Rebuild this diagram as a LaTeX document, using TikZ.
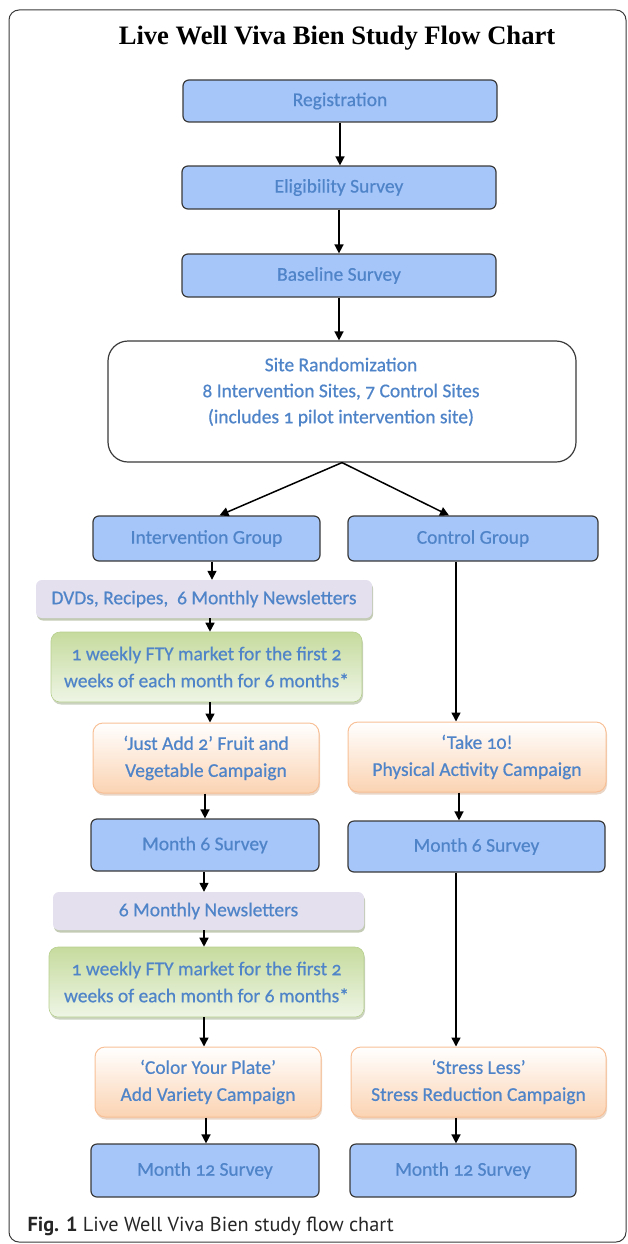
\documentclass[tikz,border=0pt]{standalone}
\usepackage{fontspec}
\setmainfont{Carlito}
\newfontfamily\boxfont[Numbers=OldStyle,FakeBold=0.6]{Carlito}
\newfontfamily\titlefont{Liberation Serif}
\newfontfamily\capfont{PT Sans}
\usetikzlibrary{arrows.meta,shadows,calc}
\definecolor{txt}{HTML}{4F84C9}
\definecolor{bfill}{HTML}{A6C6FA}
\definecolor{bord}{HTML}{3A3A3A}
\definecolor{grnD}{HTML}{C6DB9E}
\definecolor{grnL}{HTML}{EEF5E5}
\definecolor{grnB}{HTML}{B7CF8E}
\definecolor{orB}{HTML}{F8C096}
\definecolor{orD}{HTML}{FBD3B2}
\definecolor{lav}{HTML}{E4E0EE}
\definecolor{shd}{HTML}{A9B596}
\tikzset{
  basebox/.style={align=center, text=txt, font=\boxfont\fontsize{19.5}{27}\selectfont, inner sep=0pt},
  bluebox/.style={basebox, rounded corners=6pt, draw=bord, line width=1.2pt, fill=bfill},
  randbox/.style={rounded corners=20pt, draw=bord, line width=1.2pt, fill=white, inner sep=0pt},
  grnbox/.style={basebox, rounded corners=9pt, draw=grnB, line width=0.6pt, top color=grnD, bottom color=grnL,
     drop shadow={shadow xshift=1pt, shadow yshift=-2.5pt, fill=shd, opacity=0.6}},
  orbox/.style={basebox, rounded corners=10pt, draw=orB, line width=1pt, top color=white, bottom color=orD,
     drop shadow={shadow xshift=1pt, shadow yshift=-2.5pt, fill=orB!70!gray, opacity=0.5}},
  lavbox/.style={basebox, rounded corners=6pt, fill=lav,
     drop shadow={shadow xshift=1pt, shadow yshift=-2.5pt, fill=shd, opacity=0.7}},
  arr/.style={-{Triangle[length=9pt,width=9pt]}, line width=1.5pt, black}
}
\begin{document}
\begin{tikzpicture}[x=1pt,y=-1pt]
\useasboundingbox (0,0) rectangle (627,1244);
\draw[line width=1pt, draw=bord, rounded corners=10pt] (9,10) rectangle (626,1242);
\node[font=\titlefont\bfseries\fontsize{26.6}{30}\selectfont, text=black] (title) at (337,38) {Live Well Viva Bien Study Flow Chart};

\node[bluebox, minimum width=314pt, minimum height=42pt] (reg) at (340,101) {Registration};
\node[bluebox, minimum width=314pt, minimum height=43pt] (elig) at (339,187.5) {Eligibility Survey};
\node[bluebox, minimum width=314pt, minimum height=43pt] (base) at (339,275.5) {Baseline Survey};
\node[randbox, minimum width=468pt, minimum height=121pt] (rand) at (342,401.5) {};
\node[basebox, font=\boxfont\fontsize{19.5}{26}\selectfont] (randtxt) at (341,392) {Site Randomization\\8 Intervention Sites, 7 Control Sites\\(includes 1 pilot intervention site)};

\node[bluebox, minimum width=227pt, minimum height=45pt] (intv) at (206.5,538.5) {Intervention Group};
\node[bluebox, minimum width=250pt, minimum height=45pt] (ctrl) at (473,538.5) {Control Group};

\node[lavbox, minimum width=336pt, minimum height=38pt] (dvd) at (204,599) {DVDs, Recipes,\ \ 6 Monthly Newsletters};
\node[grnbox, minimum width=311pt, minimum height=70pt] (grn1) at (206.5,667) {1 weekly FTY market for the first 2\\weeks of each month for 6 months*};
\node[orbox, minimum width=226pt, minimum height=70pt] (just) at (206,758) {‘Just Add 2’ Fruit and\\Vegetable Campaign};
\node[bluebox, minimum width=228pt, minimum height=52pt] (m6l) at (205,845) {Month 6 Survey};
\node[lavbox, minimum width=311pt, minimum height=38pt] (news) at (208.5,911) {6 Monthly Newsletters};
\node[grnbox, minimum width=315pt, minimum height=70pt] (grn2) at (206.5,982) {1 weekly FTY market for the first 2\\weeks of each month for 6 months*};
\node[orbox, minimum width=226pt, minimum height=70pt] (color) at (208,1082) {‘Color Your Plate’\\Add Variety Campaign};
\node[bluebox, minimum width=228pt, minimum height=53pt] (m12l) at (205,1170.5) {Month 12 Survey};

\node[orbox, minimum width=258pt, minimum height=70pt] (take) at (477,757) {‘Take 10!\\Physical Activity Campaign};
\node[bluebox, minimum width=257pt, minimum height=51pt] (m6r) at (476.5,846.5) {Month 6 Survey};
\node[orbox, minimum width=255pt, minimum height=70pt] (stress) at (478.5,1082) {‘Stress Less’\\Stress Reduction Campaign};
\node[bluebox, minimum width=226pt, minimum height=53pt] (m12r) at (463,1170.5) {Month 12 Survey};

\node[anchor=west, font=\capfont\fontsize{20.3}{23}\selectfont, text=black!85] (cap) at (24,1226) {\textbf{Fig. 1} Live Well Viva Bien study flow chart};

% connectors
\draw[arr] (reg.south) -- (reg.south |- elig.north);
\draw[arr] (elig.south) -- (elig.south |- base.north);
\draw[arr] (base.south) -- (base.south |- rand.north);
\draw[arr] (rand.south) -- ([xshift=13pt]intv.north);
\draw[arr] (rand.south) -- ([xshift=-24pt]ctrl.north);

\draw[arr] ([xshift=5.5pt]intv.south) -- ([xshift=5.5pt]intv.south |- dvd.north);
\draw[arr] ([xshift=6pt]dvd.south) -- ([xshift=6pt]dvd.south |- grn1.north);
\draw[arr] ([xshift=3.5pt]grn1.south) -- ([xshift=3.5pt]grn1.south |- just.north);
\draw[arr] ([xshift=-1pt]just.south) -- ([xshift=-1pt]just.south |- m6l.north);
\draw[arr] ([xshift=-1pt]m6l.south) -- ([xshift=-1pt]m6l.south |- news.north);
\draw[arr] ([xshift=-4.5pt]news.south) -- ([xshift=-4.5pt]news.south |- grn2.north);
\draw[arr] ([xshift=-2.5pt]grn2.south) -- ([xshift=-2.5pt]grn2.south |- color.north);
\draw[arr] ([xshift=-2pt]color.south) -- ([xshift=-2pt]color.south |- m12l.north);

\draw[arr] ([xshift=-17pt]ctrl.south) -- ([xshift=-17pt]ctrl.south |- take.north);
\draw[arr] ([xshift=-18pt]take.south) -- ([xshift=-18pt]take.south |- m6r.north);
\draw[arr] ([xshift=-20.5pt]m6r.south) -- ([xshift=-20.5pt]m6r.south |- stress.north);
\draw[arr] ([xshift=-22.5pt]stress.south) -- ([xshift=-22.5pt]stress.south |- m12r.north);
\end{tikzpicture}
\end{document}
